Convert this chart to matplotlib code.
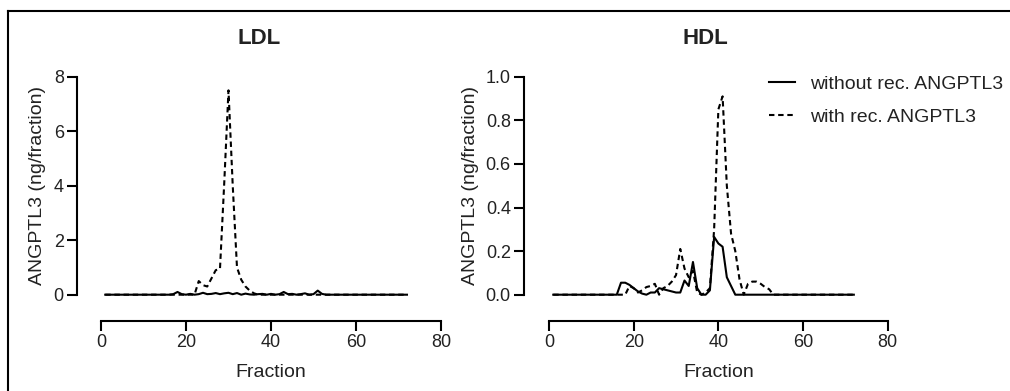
import matplotlib
matplotlib.use("Agg")
import matplotlib.pyplot as plt
from matplotlib.lines import Line2D

plt.rcParams['font.family'] = ['Liberation Sans', 'DejaVu Sans']
plt.rcParams['text.color'] = '#222222'
plt.rcParams['xtick.labelcolor'] = '#222222'
plt.rcParams['ytick.labelcolor'] = '#222222'
plt.rcParams['axes.labelcolor'] = '#222222'

fractions = list(range(1, 73))

# LDL, values (ng/fraction), fractions 1..72
ldl_without = [0.0] * 16 + [
    0.02, 0.10, 0.02, 0.00, 0.03, 0.00, 0.02, 0.07, 0.02, 0.03,   # 17-26
    0.06, 0.02, 0.05, 0.07, 0.02, 0.06, 0.00, 0.04, 0.01, 0.00,   # 27-36
    0.02, 0.03, 0.00, 0.03, 0.00, 0.02, 0.10, 0.02, 0.03, 0.00,   # 37-46
    0.02, 0.05, 0.00, 0.02, 0.15, 0.03,                           # 47-52
] + [0.0] * 20
ldl_with = [0.0] * 22 + [
    0.50, 0.35, 0.30, 0.60, 0.90, 0.95, 4.10, 7.50, 4.00, 1.00,   # 23-32
    0.55, 0.30, 0.15, 0.05,                                       # 33-36
] + [0.0] * 36

# HDL
hdl_without = [0.0] * 16 + [
    0.055, 0.055, 0.045, 0.030, 0.015, 0.005, 0.000, 0.010, 0.010, 0.030,   # 17-26
    0.025, 0.020, 0.015, 0.010, 0.010, 0.065, 0.040, 0.150, 0.030, 0.000,   # 27-36
    0.000, 0.020, 0.265, 0.235, 0.220, 0.080, 0.040,                        # 37-43
] + [0.0] * 29
hdl_with = [0.0] * 18 + [
    0.040, 0.030, 0.010, 0.020, 0.035, 0.040, 0.050, 0.000, 0.030, 0.040,   # 19-28
    0.060, 0.090, 0.210, 0.120, 0.080, 0.110, 0.010, 0.000, 0.010, 0.030,   # 29-38
    0.300, 0.850, 0.910, 0.500, 0.280, 0.200, 0.070, 0.000, 0.050, 0.060,   # 39-48
    0.060, 0.050, 0.035, 0.025,                                             # 49-52
] + [0.0] * 20

panels = [
    ("LDL", ldl_without, ldl_with, [0, 2, 4, 6, 8], "{:.0f}", [0.1, 0.2463, 0.3366, 0.5575], 17.3, -0.162),
    ("HDL", hdl_without, hdl_with, [0, 0.2, 0.4, 0.6, 0.8, 1.0], "{:.1f}", [0.5436, 0.2463, 0.3353, 0.5575], 18.0, -0.207),
]

dash = (0, (2.6, 1.8))
fig = plt.figure(figsize=(10.1, 3.91), dpi=100)

for title, without, with_, yticks, fmt, pos, ypad, ylab_x in panels:
    ax = fig.add_axes(pos)
    ax.plot(fractions, without, color='black', lw=1.5, label='without rec. ANGPTL3', clip_on=False)
    ax.plot(fractions, with_, color='black', lw=1.5, ls=dash, label='with rec. ANGPTL3', clip_on=False)
    ax.set_xlim(0, 80)
    ax.set_ylim(0, yticks[-1])
    ax.set_xticks([0, 20, 40, 60, 80])
    ax.set_yticks(yticks)
    ax.set_yticklabels([fmt.format(v) for v in yticks])
    for s in ['top', 'right']:
        ax.spines[s].set_visible(False)
    ax.spines['left'].set_position(('outward', ypad))
    ax.spines['bottom'].set_position(('outward', 18.7))
    for s in ['left', 'bottom']:
        ax.spines[s].set_linewidth(1.5)
    ax.tick_params(axis='both', length=7, width=1.5, labelsize=13, pad=2.5)
    ax.set_xlabel('Fraction', fontsize=14)
    ax.set_ylabel('ANGPTL3 (ng/fraction)', fontsize=14)
    ax.xaxis.set_label_coords(0.5, -0.318)
    ax.yaxis.set_label_coords(ylab_x, 0.5)
    # title centered over the spine span (y axis to x=80)
    x_mid = pos[0] + (pos[2] - ypad / 72 * 100 / 1010) / 2
    fig.text(x_mid, 1 - 39 / 391, title, fontsize=16, fontweight='bold', ha='center', va='center')
    if title == "HDL":
        ax.legend(loc='upper left', bbox_to_anchor=(769 / 1010, 1 - 75 / 391),
                  bbox_transform=fig.transFigure, frameon=False, fontsize=14,
                  handlelength=1.34, handletextpad=0.75, labelspacing=0.82,
                  borderpad=0, borderaxespad=0)

# frame around the figure (left and top edges visible)
fig.add_artist(Line2D([8.3 / 1010, 8.3 / 1010], [0, 1 - 11 / 391], color='black', lw=1.5, transform=fig.transFigure))
fig.add_artist(Line2D([8.3 / 1010, 1], [1 - 11 / 391, 1 - 11 / 391], color='black', lw=1.5, transform=fig.transFigure))

fig.savefig('out.png', dpi=100)
